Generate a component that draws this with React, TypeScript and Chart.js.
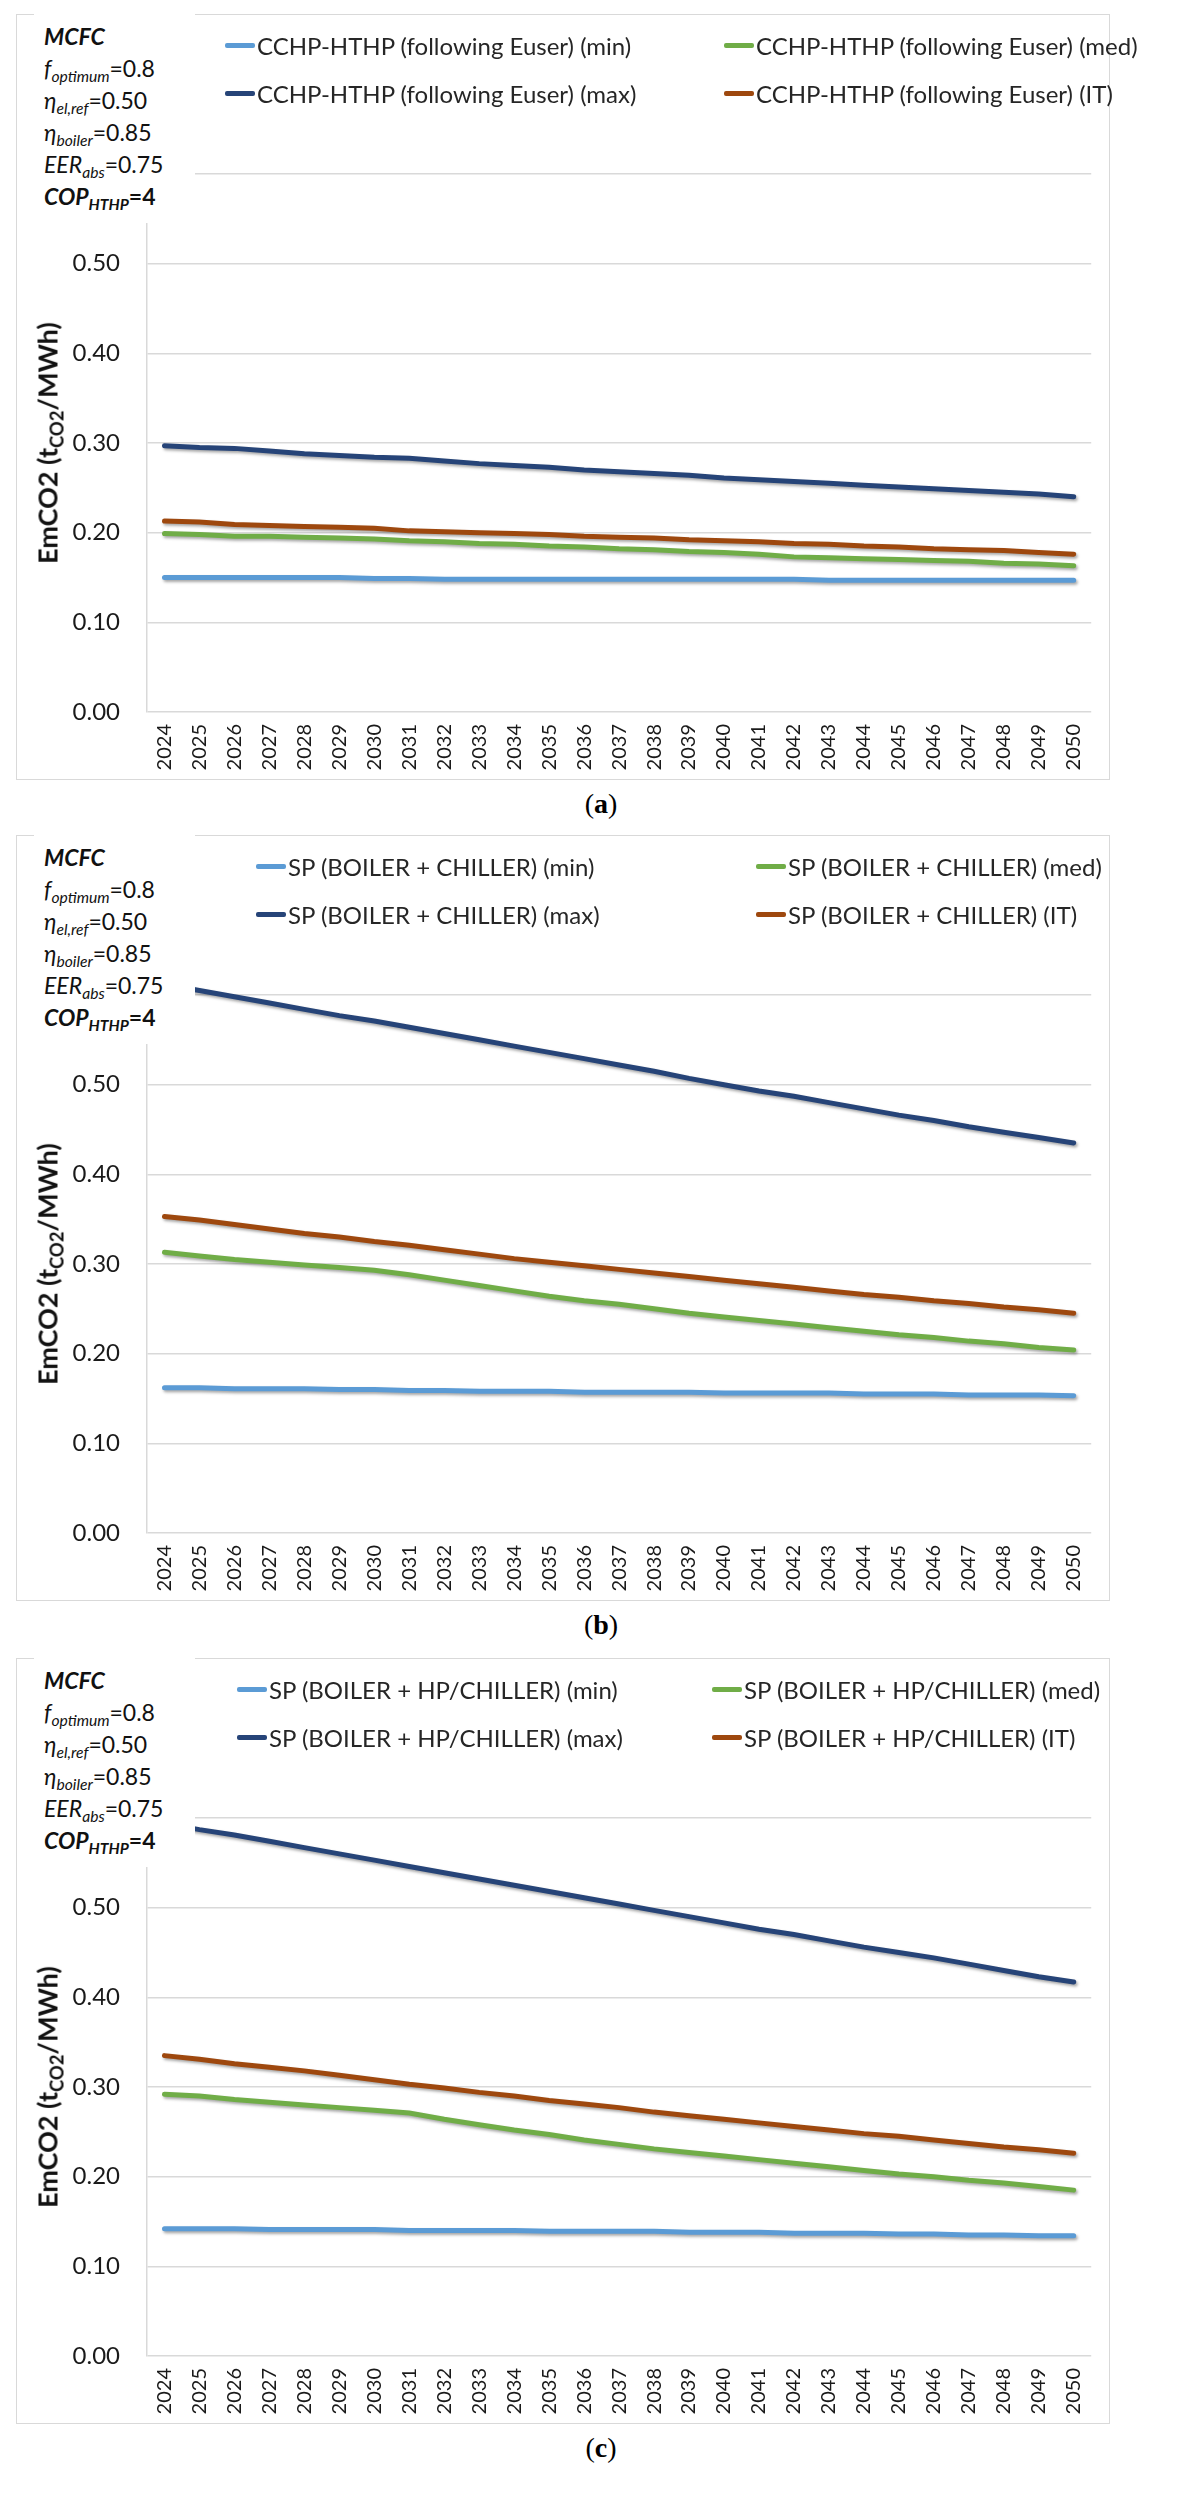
import React, { useEffect, useRef } from "react";
import { Chart, registerables } from "chart.js";

Chart.register(...registerables);

const years = [
  "2024", "2025", "2026", "2027", "2028", "2029", "2030", "2031", "2032",
  "2033", "2034", "2035", "2036", "2037", "2038", "2039", "2040", "2041",
  "2042", "2043", "2044", "2045", "2046", "2047", "2048", "2049", "2050",
];

// (a) CCHP-HTHP (following Euser)
const aNames = [
  "CCHP-HTHP (following Euser) (min)",
  "CCHP-HTHP (following Euser) (med)",
  "CCHP-HTHP (following Euser) (max)",
  "CCHP-HTHP (following Euser) (IT)",
];
const aMin = [0.150, 0.150, 0.150, 0.150, 0.150, 0.150, 0.149, 0.149, 0.148, 0.148, 0.148, 0.148, 0.148, 0.148, 0.148, 0.148, 0.148, 0.148, 0.148, 0.147, 0.147, 0.147, 0.147, 0.147, 0.147, 0.147, 0.147];
const aMed = [0.199, 0.198, 0.196, 0.196, 0.195, 0.194, 0.193, 0.191, 0.190, 0.188, 0.187, 0.185, 0.184, 0.182, 0.181, 0.179, 0.178, 0.176, 0.173, 0.172, 0.171, 0.170, 0.169, 0.168, 0.166, 0.165, 0.163];
const aMax = [0.297, 0.295, 0.294, 0.291, 0.288, 0.286, 0.284, 0.283, 0.280, 0.277, 0.275, 0.273, 0.270, 0.268, 0.266, 0.264, 0.261, 0.259, 0.257, 0.255, 0.253, 0.251, 0.249, 0.247, 0.245, 0.243, 0.240];
const aIT = [0.213, 0.212, 0.209, 0.208, 0.207, 0.206, 0.205, 0.202, 0.201, 0.200, 0.199, 0.198, 0.196, 0.195, 0.194, 0.192, 0.191, 0.190, 0.188, 0.187, 0.185, 0.184, 0.182, 0.181, 0.180, 0.178, 0.176];

// (b) SP (BOILER + CHILLER)
const bNames = [
  "SP (BOILER + CHILLER) (min)",
  "SP (BOILER + CHILLER) (med)",
  "SP (BOILER + CHILLER) (max)",
  "SP (BOILER + CHILLER) (IT)",
];
const bMin = [0.162, 0.162, 0.161, 0.161, 0.161, 0.160, 0.160, 0.159, 0.159, 0.158, 0.158, 0.158, 0.157, 0.157, 0.157, 0.157, 0.156, 0.156, 0.156, 0.156, 0.155, 0.155, 0.155, 0.154, 0.154, 0.154, 0.153];
const bMed = [0.313, 0.309, 0.305, 0.302, 0.299, 0.296, 0.293, 0.288, 0.282, 0.276, 0.270, 0.264, 0.259, 0.255, 0.250, 0.245, 0.241, 0.237, 0.233, 0.229, 0.225, 0.221, 0.218, 0.214, 0.211, 0.207, 0.204];
const bMax = [0.612, 0.605, 0.598, 0.591, 0.584, 0.577, 0.571, 0.564, 0.557, 0.550, 0.543, 0.536, 0.529, 0.522, 0.515, 0.507, 0.500, 0.493, 0.487, 0.480, 0.473, 0.466, 0.460, 0.453, 0.447, 0.441, 0.435];
const bIT = [0.353, 0.349, 0.344, 0.339, 0.334, 0.330, 0.325, 0.321, 0.316, 0.311, 0.306, 0.302, 0.298, 0.294, 0.290, 0.286, 0.282, 0.278, 0.274, 0.270, 0.266, 0.263, 0.259, 0.256, 0.252, 0.249, 0.245];

// (c) SP (BOILER + HP/CHILLER)
const cNames = [
  "SP (BOILER + HP/CHILLER) (min)",
  "SP (BOILER + HP/CHILLER) (med)",
  "SP (BOILER + HP/CHILLER) (max)",
  "SP (BOILER + HP/CHILLER) (IT)",
];
const cMin = [0.142, 0.142, 0.142, 0.141, 0.141, 0.141, 0.141, 0.140, 0.140, 0.140, 0.140, 0.139, 0.139, 0.139, 0.139, 0.138, 0.138, 0.138, 0.137, 0.137, 0.137, 0.136, 0.136, 0.135, 0.135, 0.134, 0.134];
const cMed = [0.292, 0.290, 0.286, 0.283, 0.280, 0.277, 0.274, 0.271, 0.264, 0.258, 0.252, 0.247, 0.241, 0.236, 0.231, 0.227, 0.223, 0.219, 0.215, 0.211, 0.207, 0.203, 0.200, 0.196, 0.193, 0.189, 0.185];
const cMax = [0.594, 0.587, 0.581, 0.574, 0.567, 0.560, 0.553, 0.546, 0.539, 0.532, 0.525, 0.518, 0.511, 0.504, 0.497, 0.490, 0.483, 0.476, 0.470, 0.463, 0.456, 0.450, 0.444, 0.437, 0.430, 0.423, 0.417];
const cIT = [0.335, 0.331, 0.326, 0.322, 0.318, 0.313, 0.308, 0.303, 0.299, 0.294, 0.290, 0.285, 0.281, 0.277, 0.272, 0.268, 0.264, 0.260, 0.256, 0.252, 0.248, 0.245, 0.241, 0.237, 0.233, 0.230, 0.226];

const seriesColors = ["#5B9BD5", "#70AD47", "#264478", "#9E480E"];

const FONT = "Lato, 'Noto Sans', sans-serif";
const BOX_W = 1094;
const BOX_H = 766;

// soft drop shadow under the lines, like the Excel style
const lineShadow = {
  id: "lineShadow",
  beforeDatasetsDraw(chart: any) {
    const c = chart.ctx;
    c.save();
    c.shadowColor = "rgba(0,0,0,0.35)";
    c.shadowBlur = 3;
    c.shadowOffsetX = 1.5;
    c.shadowOffsetY = 2;
  },
  afterDatasetsDraw(chart: any) {
    chart.ctx.restore();
  },
};

type PanelProps = {
  top: number;
  letter: string;
  names: string[];
  values: number[][];
  legendX: number[];
};

function Panel({ top, letter, names, values, legendX }: PanelProps) {
  const canvasRef = useRef<HTMLCanvasElement | null>(null);

  useEffect(() => {
    if (!canvasRef.current) return;
    const chart = new Chart(canvasRef.current, {
      type: "line",
      data: {
        labels: years,
        datasets: values.map((v, i) => ({
          label: names[i],
          data: v,
          borderColor: seriesColors[i],
          backgroundColor: seriesColors[i],
          borderWidth: 5,
          pointRadius: 0,
          tension: 0,
          clip: false as any,
          borderCapStyle: "round" as const,
        })),
      },
      options: {
        animation: false,
        responsive: false,
        devicePixelRatio: 1,
        layout: { padding: { top: 160, right: 15, left: 0, bottom: 0 } },
        plugins: { legend: { display: false }, tooltip: { enabled: false } },
        scales: {
          x: {
            type: "category",
            offset: true,
            grid: { display: false, drawTicks: false },
            border: { display: false },
            ticks: {
              autoSkip: false,
              maxRotation: 90,
              minRotation: 90,
              padding: 12,
              color: "#1a1a1a",
              font: { family: FONT, size: 20 },
            },
            afterFit: (s: any) => {
              s.height = 68;
            },
          },
          y: {
            min: 0,
            max: 0.6,
            ticks: {
              stepSize: 0.1,
              padding: 27,
              color: "#1a1a1a",
              font: { family: FONT, size: 24 },
              callback: (v: any) => Number(v).toFixed(2),
            },
            grid: { color: "#d9d9d9", lineWidth: 1.5, drawTicks: false },
            border: { display: true, color: "#d9d9d9", width: 1.5 },
            afterFit: (s: any) => {
              s.width = 131;
            },
          },
        },
      },
      plugins: [lineShadow],
    });
    return () => chart.destroy();
  }, [names, values]);

  const legendRows = [30, 78];

  return (
    <>
      <div
        style={{
          position: "absolute",
          left: 16,
          top,
          width: BOX_W,
          height: BOX_H,
          border: "1.5px solid #d9d9d9",
          boxSizing: "border-box",
          background: "#fff",
        }}
      >
        <canvas
          ref={canvasRef}
          width={BOX_W}
          height={BOX_H}
          style={{ position: "absolute", left: -1.5, top: -1.5, width: BOX_W, height: BOX_H }}
        />
        {names.map((n, i) => (
          <div
            key={n}
            style={{
              position: "absolute",
              left: legendX[i % 2],
              top: legendRows[Math.floor(i / 2)] - 16,
              height: 32,
              display: "flex",
              alignItems: "center",
              whiteSpace: "nowrap",
              fontFamily: FONT,
              fontSize: 24,
              color: "#262626",
            }}
          >
            <span
              style={{
                display: "inline-block",
                width: 30,
                height: 5,
                borderRadius: 2,
                background: seriesColors[i],
                marginRight: 2,
              }}
            />
            {n}
          </div>
        ))}
        <div
          style={{
            position: "absolute",
            left: 17,
            top: -2,
            width: 161,
            height: 210,
            background: "#fff",
            boxSizing: "border-box",
            paddingLeft: 10,
            paddingTop: 7,
            fontFamily: FONT,
            fontSize: 23,
            lineHeight: "32px",
            color: "#111",
            whiteSpace: "nowrap",
          }}
        >
          <div><b><i>MCFC</i></b></div>
          <div><i>f<sub style={subStyle}>optimum</sub></i>=0.8</div>
          <div><i>η<sub style={subStyle}>el,ref</sub></i>=0.50</div>
          <div><i>η<sub style={subStyle}>boiler</sub></i>=0.85</div>
          <div><i>EER<sub style={subStyle}>abs</sub></i>=0.75</div>
          <div><b><i>COP<sub style={subStyle}>HTHP</sub></i>=4</b></div>
        </div>
        <div
          style={{
            position: "absolute",
            left: 30,
            top: 428,
            transform: "translate(-50%, -50%) rotate(-90deg)",
            whiteSpace: "nowrap",
            fontFamily: FONT,
            fontWeight: 700,
            fontSize: 27,
            color: "#111",
          }}
        >
          EmCO2 (t<sub style={subStyle}>CO2</sub>/MWh)
        </div>
      </div>
      <div
        style={{
          position: "absolute",
          left: 0,
          width: 1202,
          top: top + BOX_H + 8,
          textAlign: "center",
          fontFamily: "'Liberation Serif', 'DejaVu Serif', serif",
          fontSize: 28,
          color: "#000",
        }}
      >
        (<b>{letter}</b>)
      </div>
    </>
  );
}

const subStyle: React.CSSProperties = {
  fontSize: "0.68em",
  verticalAlign: "-0.3em",
  lineHeight: 0,
};

const aValues = [aMin, aMed, aMax, aIT];
const bValues = [bMin, bMed, bMax, bIT];
const cValues = [cMin, cMed, cMax, cIT];

export default function App() {
  return (
    <div
      style={{
        position: "absolute",
        left: 0,
        top: 0,
        width: 1202,
        height: 2495,
        background: "#fff",
        overflow: "hidden",
      }}
    >
      <Panel top={14} letter="a" names={aNames} values={aValues} legendX={[208, 707]} />
      <Panel top={835} letter="b" names={bNames} values={bValues} legendX={[239, 739]} />
      <Panel top={1658} letter="c" names={cNames} values={cValues} legendX={[220, 695]} />
    </div>
  );
}
